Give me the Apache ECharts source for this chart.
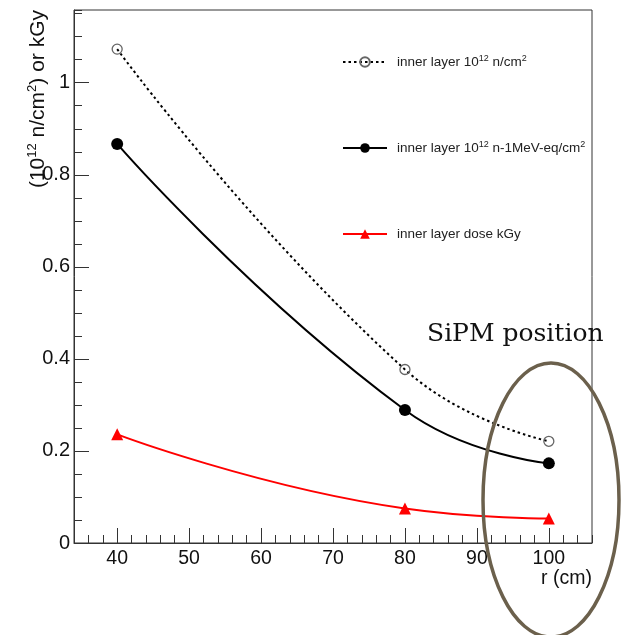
<!DOCTYPE html>
<html>
<head>
<meta charset="utf-8">
<script src="https://cdn.jsdelivr.net/npm/echarts@6/dist/echarts.min.js"></script>
<style>
html,body{margin:0;padding:0;background:#fff;}
#chart{width:628px;height:635px;}
</style>
</head>
<body>
<div id="chart"></div>
<script>
// ---- data ----
const radii = [40, 80, 100];                 // r (cm)
const fluence = [1.073, 0.377, 0.221];       // inner layer 10^12 n/cm^2
const fluenceNeq = [0.867, 0.289, 0.173];    // inner layer 10^12 n-1MeV-eq/cm^2
const dose = [0.236, 0.075, 0.053];          // inner layer dose kGy
const xTickLabels = [40, 50, 60, 70, 80, 90, 100];
const yTickLabels = [0, 0.2, 0.4, 0.6, 0.8, 1];
const seriesNames = ['inner layer 10^12 n/cm^2', 'inner layer 10^12 n-1MeV-eq/cm^2', 'inner layer dose kGy'];
const legendLabels = ['inner layer 10{sup|12} n/cm{sup|2}', 'inner layer 10{sup|12} n-1MeV-eq/cm{sup|2}', 'inner layer dose kGy'];
const yTitle = '(10{sup|12} n/cm{sup|2}) or kGy';
const xTitle = 'r (cm)';
const annotation = 'SiPM position';

const X_MIN = 34, X_MAX = 106, Y_MIN = 0, Y_MAX = 1.158;
const FONT = 'Liberation Sans';
const axisCol = '#333';

function pairs(xs, ys) { return xs.map((x, i) => [x, ys[i]]); }

const chart = echarts.init(document.getElementById('chart'), null, {renderer: 'canvas'});

function legendFor(i, top) {
  return {
    show: true,
    data: [seriesNames[i]],
    left: 342, top: top,
    padding: 0,
    itemWidth: 44, itemHeight: 12,
    formatter: () => legendLabels[i],
    textStyle: {
      fontFamily: FONT, fontSize: 13.5, color: '#222', padding: [0, 0, 0, 5], lineHeight: 16,
      rich: {sup: {fontSize: 9, fontFamily: FONT, color: '#222', verticalAlign: 'top', lineHeight: 16}}
    },
    selectedMode: false
  };
}

const option = {
  animation: false,
  backgroundColor: '#fff',
  grid: {left: 74, top: 10, width: 518, height: 533, show: true, borderColor: axisCol, borderWidth: 1,
    backgroundColor: 'transparent', containLabel: false, outerBoundsMode: 'none'},
  xAxis: [{
    type: 'value', min: X_MIN, max: X_MAX, position: 'bottom',
    axisLine: {show: true, onZero: false, lineStyle: {color: axisCol, width: 1}},
    axisTick: {show: true, inside: true, length: 15, customValues: xTickLabels, lineStyle: {color: axisCol}},
    axisLabel: {show: true, customValues: xTickLabels, margin: 6, fontFamily: FONT, fontSize: 19.5, color: '#111'},
    splitLine: {show: false},
    name: xTitle, nameLocation: 'end', nameGap: 0,
    nameTextStyle: {fontFamily: FONT, fontSize: 19.5, color: '#111', align: 'right', verticalAlign: 'top', padding: [26, 0, 0, 0]}
  }, {
    type: 'value', min: X_MIN, max: X_MAX, interval: 2, position: 'bottom',
    axisLine: {show: false, onZero: false},
    axisTick: {show: true, inside: true, length: 8, lineStyle: {color: axisCol}},
    axisLabel: {show: false}, splitLine: {show: false}
  }],
  yAxis: [{
    type: 'value', min: Y_MIN, max: Y_MAX, position: 'left',
    axisLine: {show: true, onZero: false, lineStyle: {color: axisCol, width: 1}},
    axisTick: {show: true, inside: true, length: 15, customValues: yTickLabels, lineStyle: {color: axisCol}},
    axisLabel: {show: true, customValues: yTickLabels, margin: 4, fontFamily: FONT, fontSize: 20, color: '#111'},
    splitLine: {show: false}
  }, {
    type: 'value', min: Y_MIN, max: Y_MAX, interval: 0.05, position: 'left',
    axisLine: {show: false, onZero: false},
    axisTick: {show: true, inside: true, length: 8, lineStyle: {color: axisCol}},
    axisLabel: {show: false}, splitLine: {show: false}
  }],
  legend: [legendFor(0, 54), legendFor(1, 140), legendFor(2, 226)],
  series: [{
    name: seriesNames[0], type: 'line', xAxisIndex: 0, yAxisIndex: 0,
    data: pairs(radii, fluence), smooth: 0.5,
    symbol: 'circle', symbolSize: 10,
    lineStyle: {color: '#000', width: 2, type: [2.5, 3]},
    itemStyle: {color: 'rgba(255,255,255,0)', borderColor: '#666', borderWidth: 1.3},
    z: 3
  }, {
    name: seriesNames[1], type: 'line', xAxisIndex: 0, yAxisIndex: 0,
    data: pairs(radii, fluenceNeq), smooth: 0.5,
    symbol: 'circle', symbolSize: 12,
    lineStyle: {color: '#000', width: 2},
    itemStyle: {color: '#000'},
    z: 3
  }, {
    name: seriesNames[2], type: 'line', xAxisIndex: 0, yAxisIndex: 0,
    data: pairs(radii, dose), smooth: 0.5,
    symbol: 'triangle', symbolSize: 12,
    lineStyle: {color: '#ff0000', width: 2},
    itemStyle: {color: '#ff0000'},
    z: 3
  }],
  graphic: [{
    type: 'text', z: 50, x: 38, y: 10, rotation: Math.PI / 2,
    style: {
      text: yTitle, fontFamily: FONT, fontSize: 21, fill: '#111', align: 'right', verticalAlign: 'middle', lineHeight: 24,
      rich: {sup: {fontSize: 13, fontFamily: FONT, fill: '#111', verticalAlign: 'top', lineHeight: 24}}
    }
  }, {
    type: 'ellipse', z: 100,
    shape: {cx: 551, cy: 500, rx: 68, ry: 137},
    style: {fill: 'none', stroke: '#6b604c', lineWidth: 3.5}
  }, {
    type: 'text', z: 100, left: 427, top: 322,
    style: {text: annotation, font: '25px "DejaVu Serif"', fill: '#111'}
  }]
};
chart.setOption(option);
</script>
</body>
</html>
